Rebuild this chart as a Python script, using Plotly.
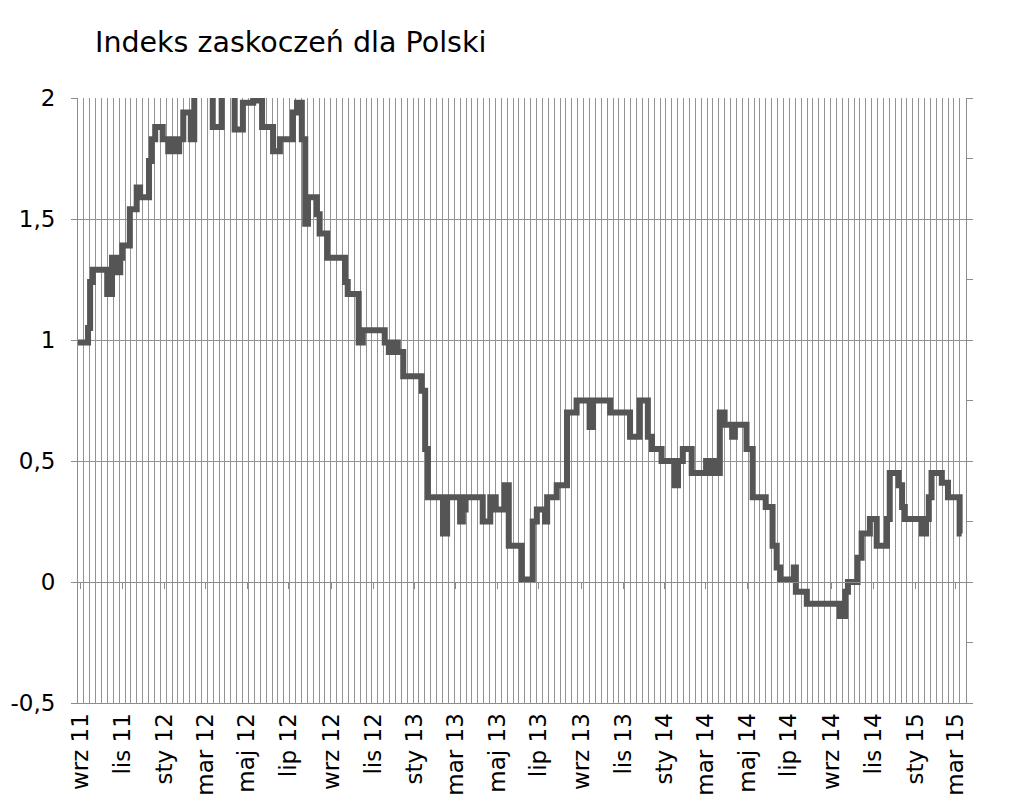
import plotly.graph_objects as go

# Change-point dates (value holds from this date until the next one)
dates = [
    "2011-08-28", "2011-09-12", "2011-09-15", "2011-09-19", "2011-10-10", "2011-10-17",
    "2011-10-24", "2011-10-29", "2011-11-01", "2011-11-12", "2011-11-22", "2011-11-27",
    "2011-12-10", "2011-12-14", "2011-12-19", "2011-12-30", "2012-01-07", "2012-01-13",
    "2012-01-17", "2012-01-23", "2012-01-29", "2012-02-09", "2012-02-14", "2012-03-12",
    "2012-03-25", "2012-04-13", "2012-04-25", "2012-05-10", "2012-05-23", "2012-06-08",
    "2012-06-18", "2012-07-07", "2012-07-13", "2012-07-20", "2012-07-25", "2012-07-29",
    "2012-08-11", "2012-08-15", "2012-08-26", "2012-09-21", "2012-09-25", "2012-10-11",
    "2012-10-17", "2012-11-18", "2012-11-24", "2012-11-30", "2012-12-07", "2012-12-15",
    "2013-01-11", "2013-01-16", "2013-01-20", "2013-02-11", "2013-02-17", "2013-03-08",
    "2013-03-12", "2013-03-16", "2013-04-10", "2013-04-21", "2013-04-29", "2013-05-12",
    "2013-05-18", "2013-06-06", "2013-06-22", "2013-06-28", "2013-07-10", "2013-07-13",
    "2013-07-27", "2013-08-11", "2013-08-25", "2013-09-13", "2013-09-18", "2013-10-13",
    "2013-11-11", "2013-11-25", "2013-12-07", "2013-12-13", "2013-12-27", "2014-01-15",
    "2014-01-20", "2014-01-27", "2014-02-09", "2014-03-02", "2014-03-10", "2014-03-16",
    "2014-03-21", "2014-03-22", "2014-03-29", "2014-04-09", "2014-04-13", "2014-04-30",
    "2014-05-09", "2014-05-28", "2014-06-07", "2014-06-13", "2014-06-18", "2014-07-08",
    "2014-07-11", "2014-07-27", "2014-09-13", "2014-09-21", "2014-09-25", "2014-10-09",
    "2014-10-15", "2014-10-27", "2014-11-06", "2014-11-21", "2014-11-25", "2014-12-08",
    "2014-12-13", "2014-12-17", "2015-01-11", "2015-01-17", "2015-01-21", "2015-01-25",
    "2015-02-09", "2015-02-18", "2015-03-07", "2015-03-10",
]
values = [
    0.99, 1.05, 1.24, 1.29, 1.19, 1.34,
    1.28, 1.34, 1.39, 1.54, 1.63, 1.59,
    1.74, 1.83, 1.88, 1.83, 1.78, 1.83,
    1.78, 1.83, 1.94, 1.83, 2.05, 1.88,
    2.05, 1.87, 1.98, 1.99, 1.88, 1.78,
    1.83, 1.94, 1.98, 1.83, 1.48, 1.59,
    1.52, 1.44, 1.34, 1.24, 1.19, 0.99,
    1.04, 0.99, 0.95, 0.99, 0.95, 0.85,
    0.79, 0.55, 0.35, 0.20, 0.35, 0.25,
    0.30, 0.35, 0.25, 0.35, 0.30, 0.40,
    0.15, 0.01, 0.25, 0.30, 0.25, 0.35,
    0.40, 0.70, 0.75, 0.64, 0.75, 0.70,
    0.60, 0.75, 0.60, 0.55, 0.50, 0.40,
    0.50, 0.55, 0.45, 0.50, 0.45, 0.50,
    0.45, 0.70, 0.65, 0.60, 0.65, 0.55,
    0.35, 0.31, 0.15, 0.06, 0.01, 0.06,
    -0.04, -0.09, -0.14, -0.04, 0.00, 0.10,
    0.20, 0.26, 0.15, 0.26, 0.45, 0.40,
    0.31, 0.26, 0.20, 0.26, 0.35, 0.45,
    0.41, 0.35, 0.20, 0.20,
]

# Axis labels
x_tick_dates = [
    "2011-09-01", "2011-11-01", "2012-01-01", "2012-03-01", "2012-05-01", "2012-07-01",
    "2012-09-01", "2012-11-01", "2013-01-01", "2013-03-01", "2013-05-01", "2013-07-01",
    "2013-09-01", "2013-11-01", "2014-01-01", "2014-03-01", "2014-05-01", "2014-07-01",
    "2014-09-01", "2014-11-01", "2015-01-01", "2015-03-01",
]
x_tick_labels = [
    "wrz 11", "lis 11", "sty 12", "mar 12", "maj 12", "lip 12",
    "wrz 12", "lis 12", "sty 13", "mar 13", "maj 13", "lip 13",
    "wrz 13", "lis 13", "sty 14", "mar 14", "maj 14", "lip 14",
    "wrz 14", "lis 14", "sty 15", "mar 15",
]
y_tick_vals = [-0.5, 0, 0.5, 1, 1.5, 2]
y_tick_labels = ["-0,5", "0", "0,5", "1", "1,5", "2"]

title_text = "Indeks zaskoczeń dla Polski"

X_RANGE = ["2011-08-28 08:24", "2015-03-16 07:00"]
Y_RANGE = [-0.5, 2]
GRID = "#939393"
AXIS = "#8c8c8c"
FONT = "DejaVu Sans"
TICK_SIZE = 23
DAY_MS = 86400000

fig = go.Figure()
fig.add_trace(go.Scatter(
    x=dates, y=values, mode="lines", line=dict(color="#555555", width=6, shape="hv"),
    showlegend=False, hoverinfo="skip",
))
# helper (empty) traces so the extra axes are drawn
fig.add_trace(go.Scatter(x=[], y=[], yaxis="y2", showlegend=False))
fig.add_trace(go.Scatter(x=[], y=[], xaxis="x2", showlegend=False))

# the page body adds an 8px offset; margins compensate so the plot area lands as in the reference
fig.update_layout(
    width=1024, height=806,
    margin=dict(l=70, r=66, t=90, b=111),
    paper_bgcolor="white", plot_bgcolor="white",
    font=dict(family=FONT, size=TICK_SIZE, color="black"),
    title=dict(text=title_text, x=87 / 1024, xref="container", xanchor="left",
               y=1 - 34 / 806, yref="container", yanchor="middle",
               font=dict(family=FONT, size=28.5, color="black")),
    xaxis=dict(
        type="date", range=X_RANGE, tickmode="array", tickvals=x_tick_dates,
        ticktext=x_tick_labels, tickangle=-90, showgrid=False, ticks="",
        showline=True, linecolor=AXIS, linewidth=1, zeroline=False, automargin=False,
        tickfont=dict(family=FONT, size=TICK_SIZE, color="black"),
        minor=dict(showgrid=True, gridcolor=GRID, gridwidth=1,
                   tick0=X_RANGE[0], dtick=8.58 * DAY_MS, ticks=""),
    ),
    xaxis2=dict(
        type="date", range=X_RANGE, overlaying="x", anchor="free", position=0.2,
        tickmode="array", tickvals=x_tick_dates, showticklabels=False, automargin=False,
        ticks="outside", ticklen=6, tickcolor=AXIS, showgrid=False,
        showline=True, linecolor=AXIS, linewidth=1, zeroline=False,
    ),
    yaxis=dict(
        range=Y_RANGE, tickmode="array", tickvals=y_tick_vals, ticktext=y_tick_labels,
        showgrid=True, gridcolor=GRID, gridwidth=1, zeroline=False, automargin=False,
        ticks="outside", ticklen=6, tickcolor=AXIS, ticklabelstandoff=11,
        showline=True, linecolor=AXIS, linewidth=1,
        tickfont=dict(family=FONT, size=TICK_SIZE, color="black"),
    ),
    yaxis2=dict(
        range=Y_RANGE, overlaying="y", side="right", dtick=0.25, tick0=0, automargin=False,
        showticklabels=False, ticks="outside", ticklen=6, tickcolor=AXIS,
        showgrid=False, zeroline=False, showline=True, linecolor=AXIS, linewidth=1,
    ),
)

fig.write_html("out.html")
